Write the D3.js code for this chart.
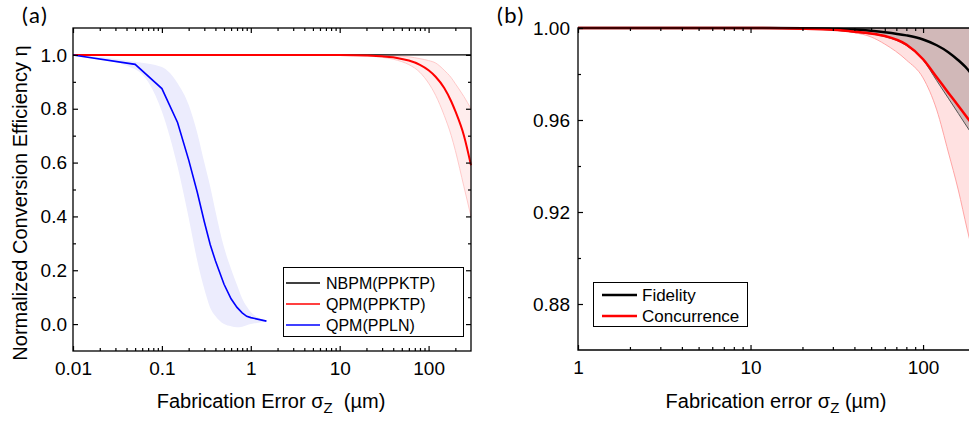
<!DOCTYPE html>
<html>
<head>
<meta charset="utf-8">
<script src="https://cdn.jsdelivr.net/npm/d3@7"></script>
<style>
  body { margin: 0; background: #fff; }
  svg { display: block; }
  text { font-family: "Liberation Sans", Arial, sans-serif; fill: #000; }
  .axis path { display: none; }
  .axis line { stroke: #000; stroke-width: 1.2; }
  .axis text { font-size: 19px; }
  .lab { font-family: Lato, "Open Sans", sans-serif; font-size: 22px; letter-spacing: 1.5px; }
</style>
</head>
<body>
<div id="chart"></div>
<script>
// ---- panel (a) data ----
var sigmaPPLN = [0.01, 0.05, 0.1, 0.15, 0.2, 0.25, 0.3, 0.35, 0.4, 0.5, 0.6, 0.7, 0.8, 0.9, 1.0, 1.5];
var etaPPLN   = [1.0, 0.965, 0.875, 0.749, 0.61, 0.49, 0.38, 0.295, 0.235, 0.148, 0.094, 0.062, 0.042, 0.029, 0.024, 0.011];
var etaPPLNhi = [1.0, 0.975, 0.955, 0.895, 0.815, 0.71, 0.6, 0.51, 0.42, 0.285, 0.205, 0.145, 0.095, 0.065, 0.045, 0.013];
var etaPPLNlo = [1.0, 0.947, 0.79, 0.585, 0.395, 0.235, 0.13, 0.06, 0.03, 0.0, -0.008, -0.012, -0.01, -0.004, 0.0, 0.009];

var sigmaKTP  = [0.01, 10, 20, 30, 40, 50, 60, 80, 100, 120, 150, 180, 200, 250, 300];
var etaKTP    = [1.0, 1.0, 0.998, 0.995, 0.991, 0.985, 0.979, 0.963, 0.943, 0.919, 0.877, 0.827, 0.791, 0.70, 0.59];
var etaKTPhi  = [1.0, 1.0, 1.0, 0.999, 0.997, 0.995, 0.993, 0.986, 0.979, 0.97, 0.943, 0.915, 0.893, 0.845, 0.80];
var etaKTPlo  = [1.0, 1.0, 0.996, 0.991, 0.984, 0.975, 0.964, 0.935, 0.895, 0.85, 0.775, 0.70, 0.645, 0.51, 0.40];

var sigmaNBPM = [0.01, 300];
var etaNBPM   = [1.0, 1.0];

// ---- panel (b) data ----
var sigmaB     = [1, 10, 20, 30, 40, 50, 60, 80, 100, 120, 140, 160, 180, 200];
var fidelity   = [1, 1, 0.9999, 0.9996, 0.9993, 0.9988, 0.9982, 0.9968, 0.995, 0.9925, 0.9895, 0.986, 0.9823, 0.978];
var fidelityLo = [1, 1, 0.9997, 0.9991, 0.9982, 0.9974, 0.9963, 0.9924, 0.9861, 0.9771, 0.9695, 0.9629, 0.9570, 0.9518];
var concur     = [1, 1, 0.9997, 0.9992, 0.9984, 0.9976, 0.9965, 0.9928, 0.9864, 0.9786, 0.9719, 0.9662, 0.9611, 0.9566];
var concurLo   = [1, 1, 0.9998, 0.9993, 0.9980, 0.9961, 0.9930, 0.9861, 0.9783, 0.9644, 0.9461, 0.9296, 0.9126, 0.8983];

var ticksA_x = [0.01, 0.1, 1, 10, 100];
var ticksA_y = [0.0, 0.2, 0.4, 0.6, 0.8, 1.0];
var ticksB_x = [1, 10, 100];
var ticksB_y = [0.88, 0.92, 0.96, 1.00];

var width = 969, height = 421;

var svg = d3.select("#chart").append("svg")
  .attr("width", width)
  .attr("height", height);

function zipPts(xs, ys) { return xs.map(function(x, i) { return [x, ys[i]]; }); }
function bandPts(xs, lo, hi) { return xs.map(function(x, i) { return [x, lo[i], hi[i]]; }); }

function logMinors(lo, hi) {
  var out = [];
  for (var d = Math.floor(Math.log10(lo)); d <= Math.ceil(Math.log10(hi)); d++) {
    for (var k = 2; k <= 9; k++) {
      var v = k * Math.pow(10, d);
      if (v > lo && v < hi) out.push(v);
    }
  }
  return out;
}

// inward ticks on one edge
function ticks(g, axisFn, scale, vals, size, fmt, pad, transform) {
  var ax = axisFn(scale).tickValues(vals).tickSizeInner(-size).tickSizeOuter(0).tickPadding(pad);
  ax.tickFormat(fmt ? fmt : function() { return ""; });
  g.append("g").attr("class", "axis").attr("transform", transform).call(ax);
}
var fmtLog = function(d) { return String(+d.toPrecision(3)); };

// =============== panel (a) ===============
var xA = d3.scaleLog().domain([0.01, 300]).range([73, 471]);
var yA = d3.scaleLinear().domain([-0.1, 1.1]).range([351, 28]);

var gA = svg.append("g");

var areaA = d3.area()
  .x(function(d) { return xA(d[0]); })
  .y0(function(d) { return yA(d[1]); })
  .y1(function(d) { return yA(d[2]); })
  .curve(d3.curveMonotoneX);
var lineA = d3.line()
  .x(function(d) { return xA(d[0]); })
  .y(function(d) { return yA(d[1]); });

gA.append("path").datum(bandPts(sigmaPPLN, etaPPLNlo, etaPPLNhi))
  .attr("d", areaA).attr("fill", "#ececfd");
gA.append("path").datum(bandPts(sigmaKTP, etaKTPlo, etaKTPhi))
  .attr("d", areaA).attr("fill", "#ffeded");
[etaKTPlo, etaKTPhi].forEach(function(arr) {
  gA.append("path").datum(zipPts(sigmaKTP, arr))
    .attr("d", lineA.curve(d3.curveMonotoneX)).attr("fill", "none")
    .attr("stroke", "#ffc4c4").attr("stroke-width", 0.9);
});

gA.append("path").datum(zipPts(sigmaNBPM, etaNBPM))
  .attr("d", lineA.curve(d3.curveLinear)).attr("fill", "none")
  .attr("stroke", "#000").attr("stroke-width", 1.4);
gA.append("path").datum(zipPts(sigmaKTP, etaKTP))
  .attr("d", lineA.curve(d3.curveMonotoneX)).attr("fill", "none")
  .attr("stroke", "#ff0000").attr("stroke-width", 2);
gA.append("path").datum(zipPts(sigmaPPLN, etaPPLN))
  .attr("d", lineA.curve(d3.curveLinear)).attr("fill", "none")
  .attr("stroke", "#0000ff").attr("stroke-width", 1.6);

// frame + ticks (a)
gA.append("rect").attr("x", 73).attr("y", 28).attr("width", 398).attr("height", 323)
  .attr("fill", "none").attr("stroke", "#000").attr("stroke-width", 1.3);
var minorYA = [0.1, 0.3, 0.5, 0.7, 0.9];
var minorXA = logMinors(0.01, 300);
ticks(gA, d3.axisLeft, yA, ticksA_y, 5, d3.format(".1f"), 6, "translate(73,0)");
ticks(gA, d3.axisLeft, yA, minorYA, 3, null, 6, "translate(73,0)");
ticks(gA, d3.axisRight, yA, ticksA_y, 5, null, 6, "translate(471,0)");
ticks(gA, d3.axisRight, yA, minorYA, 3, null, 6, "translate(471,0)");
ticks(gA, d3.axisBottom, xA, ticksA_x, 5, fmtLog, 11, "translate(0,351)");
ticks(gA, d3.axisBottom, xA, minorXA, 3, null, 9, "translate(0,351)");
ticks(gA, d3.axisTop, xA, ticksA_x, 5, null, 9, "translate(0,28)");
ticks(gA, d3.axisTop, xA, minorXA, 3, null, 9, "translate(0,28)");

// legend (a)
var legA = gA.append("g");
legA.append("rect").attr("x", 283.5).attr("y", 267.5).attr("width", 180).attr("height", 69)
  .attr("fill", "#fff").attr("stroke", "#000").attr("stroke-width", 1);
var legAItems = [
  { label: "NBPM(PPKTP)", color: "#000" },
  { label: "QPM(PPKTP)", color: "#ff0000" },
  { label: "QPM(PPLN)", color: "#0000ff" }
];
legAItems.forEach(function(d, i) {
  var y = 283 + i * 21;
  legA.append("line").attr("x1", 286).attr("x2", 320).attr("y1", y).attr("y2", y)
    .attr("stroke", d.color).attr("stroke-width", 1.5);
  legA.append("text").attr("x", 326).attr("y", y).attr("dy", "0.36em")
    .style("font-size", "16px").text(d.label);
});

// axis titles (a)
svg.append("text")
  .attr("transform", "translate(27,203) rotate(-90)")
  .attr("text-anchor", "middle")
  .style("font-size", "20px")
  .text("Normalized Conversion Efficiency \u03b7");

var tA = svg.append("text").attr("x", 271).attr("y", 408).attr("text-anchor", "middle")
  .style("font-size", "20px").style("white-space", "pre");
tA.append("tspan").text("Fabrication Error \u03c3");
tA.append("tspan").attr("dy", 5).style("font-size", "15px").text("Z");
tA.append("tspan").attr("dy", -5).text("  (\u00b5m)");

svg.append("text").attr("class", "lab").attr("x", 22).attr("y", 23).text("(a)");

// =============== panel (b) ===============
var xB = d3.scaleLog().domain([1, 200]).range([578, 975]);
var yB = d3.scaleLinear().domain([0.86, 1.0]).range([350, 28]);

var gB = svg.append("g");
var areaB = d3.area()
  .x(function(d) { return xB(d[0]); })
  .y0(function(d) { return yB(d[1]); })
  .y1(function(d) { return yB(d[2]); })
  .curve(d3.curveMonotoneX);
var lineB = d3.line()
  .x(function(d) { return xB(d[0]); })
  .y(function(d) { return yB(d[1]); })
  .curve(d3.curveMonotoneX);

var ones = sigmaB.map(function() { return 1; });
gB.append("path").datum(bandPts(sigmaB, concurLo, ones)).attr("d", areaB).attr("fill", "#ffe1e1");
gB.append("path").datum(zipPts(sigmaB, concurLo)).attr("d", lineB).attr("fill", "none")
  .attr("stroke", "#ff9c9c").attr("stroke-width", 0.9);
gB.append("path").datum(bandPts(sigmaB, fidelityLo, ones)).attr("d", areaB).attr("fill", "#d1b8b8");
gB.append("path").datum(zipPts(sigmaB, fidelityLo)).attr("d", lineB).attr("fill", "none")
  .attr("stroke", "#555").attr("stroke-width", 1);
gB.append("path").datum(zipPts(sigmaB, fidelity)).attr("d", lineB).attr("fill", "none")
  .attr("stroke", "#000").attr("stroke-width", 2.5);
gB.append("path").datum(zipPts(sigmaB, concur)).attr("d", lineB).attr("fill", "none")
  .attr("stroke", "#ff0000").attr("stroke-width", 2.5);

// frame + ticks (b)
gB.append("path").attr("d", "M975,28H578V350H975")
  .attr("fill", "none").attr("stroke", "#000").attr("stroke-width", 1.3);
var minorYB = [0.90, 0.94, 0.98];
var minorXB = logMinors(1, 200);
ticks(gB, d3.axisLeft, yB, ticksB_y, 5, d3.format(".2f"), 8, "translate(578,0)");
ticks(gB, d3.axisLeft, yB, minorYB, 3, null, 8, "translate(578,0)");
ticks(gB, d3.axisBottom, xB, ticksB_x, 5, fmtLog, 11, "translate(0,350)");
ticks(gB, d3.axisBottom, xB, minorXB, 3, null, 9, "translate(0,350)");
ticks(gB, d3.axisTop, xB, ticksB_x, 5, null, 9, "translate(0,28)");
ticks(gB, d3.axisTop, xB, minorXB, 3, null, 9, "translate(0,28)");

// legend (b)
var legB = gB.append("g");
legB.append("rect").attr("x", 593.5).attr("y", 282.5).attr("width", 154).attr("height", 44)
  .attr("fill", "#fff").attr("stroke", "#000").attr("stroke-width", 1);
var legBItems = [
  { label: "Fidelity", color: "#000" },
  { label: "Concurrence", color: "#ff0000" }
];
legBItems.forEach(function(d, i) {
  var y = 295 + i * 21;
  legB.append("line").attr("x1", 602).attr("x2", 637).attr("y1", y).attr("y2", y)
    .attr("stroke", d.color).attr("stroke-width", 2.5);
  legB.append("text").attr("x", 642).attr("y", y).attr("dy", "0.36em")
    .style("font-size", "17px").text(d.label);
});

var tB = svg.append("text").attr("x", 776).attr("y", 408).attr("text-anchor", "middle")
  .style("font-size", "20px");
tB.append("tspan").text("Fabrication error \u03c3");
tB.append("tspan").attr("dy", 5).style("font-size", "15px").text("Z");
tB.append("tspan").attr("dy", -5).text(" (\u00b5m)");

svg.append("text").attr("class", "lab").attr("x", 497).attr("y", 23).text("(b)");
</script>
</body>
</html>
